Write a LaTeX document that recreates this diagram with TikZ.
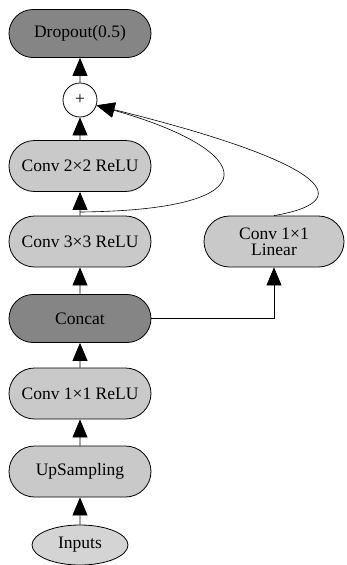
\documentclass[tikz,border=0pt]{standalone}
\usepackage{fontspec}
\setmainfont{Liberation Serif}
\usetikzlibrary{arrows.meta,shapes.misc,shapes.geometric}
\definecolor{boxlight}{HTML}{C9C9C9}
\definecolor{boxdark}{HTML}{858585}
\definecolor{ovalfill}{HTML}{D4D4D4}
\begin{document}
\begin{tikzpicture}[x=1pt,y=-1pt,
  every node/.style={font=\fontsize{17.5}{19}\selectfont, text=black},
  layer/.style={rounded rectangle, draw=black, line width=0.8pt, fill=boxlight,
    minimum width=146pt, minimum height=51pt, inner sep=2pt, align=center},
  darklayer/.style={layer, fill=boxdark, minimum height=48pt},
  flow/.style={draw=black, line width=0.8pt, -{Triangle[width=15pt,length=18pt]}},
  link/.style={draw=black, line width=0.6pt, -{Triangle[width=15pt,length=18pt]}}]
\useasboundingbox (0,0) rectangle (346,565);

\node[darklayer] (drop) at (80,33.5) {Dropout(0.5)};
\node[circle, draw=black, line width=0.8pt, fill=white, minimum size=34pt, inner sep=0pt] (add) at (80,100) {+};
\node[layer] (c22) at (80,166) {Conv 2×2 ReLU};
\node[layer] (c33) at (80,241.5) {Conv 3×3 ReLU};
\node[layer, minimum width=144pt] (lin) at (274,241.5) {Conv 1×1\\[-3pt]Linear};
\node[darklayer] (cat) at (80,318.5) {Concat};
\node[layer] (c11) at (80,393.5) {Conv 1×1 ReLU};
\node[layer] (up) at (80,471.5) {UpSampling};
\node[ellipse, draw=black, line width=0.8pt, fill=ovalfill, minimum width=96pt, minimum height=40pt, inner sep=1pt] (in) at (80,545) {Inputs};

% main chain
\draw[flow] (in) -- (up);
\draw[flow] (up) -- (c11);
\draw[flow] (c11) -- (cat);
\draw[flow] (cat) -- (c33);
\draw[flow] (c33) -- (c22);
\draw[flow] (c22) -- (add);
\draw[flow] (add) -- (drop);

% side branch
\draw[link] (cat.east) -| (lin.south);

% skip connections into the sum
\coordinate (skip) at (80,212);
\draw[link] (skip) .. controls (278,210) and (255,150) .. (add.-18);
\draw[link] (lin.north) .. controls (365,200) and (318,160) .. (add.-18);
\end{tikzpicture}
\end{document}
